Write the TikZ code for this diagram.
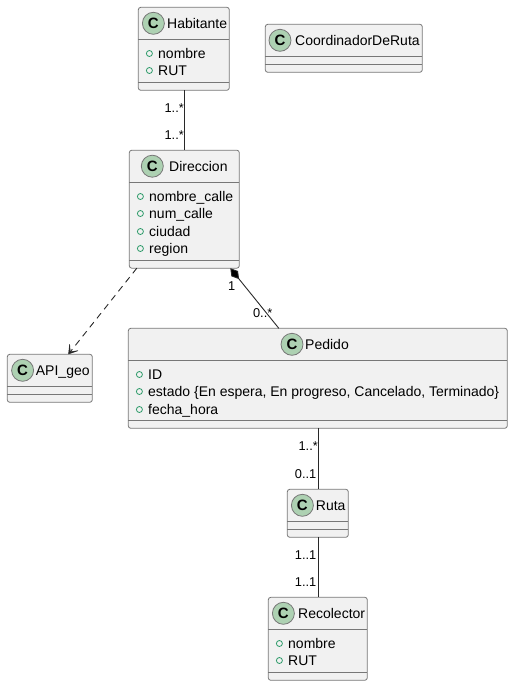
\documentclass[tikz,border=0pt]{standalone}
\usepackage{fontspec}
\setmainfont{Liberation Sans}
\usetikzlibrary{arrows.meta,calc}
\definecolor{boxfill}{HTML}{F1F1F1}
\definecolor{boxline}{HTML}{777777}
\definecolor{spotfill}{HTML}{ADD1B2}
\definecolor{attrline}{HTML}{2E9B6A}
\definecolor{edgeline}{HTML}{282828}
\tikzset{
  classbox/.style={draw=boxline,fill=boxfill,line width=0.8pt,rounded corners=2.5pt,inner sep=0pt,outer sep=0pt,anchor=north west},
  spotmark/.style={circle,draw=boxline,fill=spotfill,line width=0.8pt,minimum size=22pt,inner sep=0pt,outer sep=0pt,font=\fontsize{15}{15}\selectfont\bfseries},
  titletext/.style={inner sep=0pt,anchor=base west,font=\fontsize{14}{15}\selectfont,text=black},
  attrtext/.style={inner sep=0pt,anchor=base west,font=\fontsize{14}{15}\selectfont,text=black},
  attrmark/.style={circle,draw=attrline,line width=0.8pt,minimum size=6pt,inner sep=0pt,outer sep=0pt},
  multlabel/.style={inner sep=0pt,font=\fontsize{12.8}{13}\selectfont,text=black},
  sepline/.style={draw=boxline,line width=0.8pt},
  connector/.style={draw=edgeline,line width=0.9pt},
}
\newcommand{\classbox}[8]{% name, x, y, w, h, spot x, title x, title
  \node[classbox,minimum width=#4pt,minimum height=#5pt] (#1) at (#2,#3) {};
  \node[spotmark] (#1spot) at (#6,#3+16) {C};
  \node[titletext] (#1title) at (#7,#3+21.5) {#8};
}
\newcommand{\attrib}[4]{% name, mark x, baseline y, text
  \node[attrmark] (#1m) at (#2,#3-4.5) {};
  \node[attrtext] (#1) at (#2+8.6,#3) {#4};
}
\begin{document}
\begin{tikzpicture}[x=1pt,y=-1pt]
\useasboundingbox (0,0) rectangle (513,686);
% Habitante
\classbox{hab}{138.3}{7.3}{91}{83}{153.4}{167}{Habitante}
\draw[sepline] (138.3,39.3) -- (229.3,39.3);
\draw[sepline] (138.3,82.3) -- (229.3,82.3);
\attrib{habA}{149.4}{58}{nombre}
\attrib{habB}{149.4}{75}{RUT}
% Coordinador
\classbox{coo}{265.3}{24.3}{157}{48}{280}{295}{CoordinadorDeRuta}
\draw[sepline] (265.3,56.3) -- (422.3,56.3);
\draw[sepline] (265.3,64.3) -- (422.3,64.3);
% Direccion
\classbox{dir}{129.3}{150.2}{110}{118}{152.3}{169}{Direccion}
\draw[sepline] (129.3,182.2) -- (239.3,182.2);
\draw[sepline] (129.3,260.2) -- (239.3,260.2);
\attrib{dirA}{140.4}{201}{nombre\_calle}
\attrib{dirB}{140.4}{218}{num\_calle}
\attrib{dirC}{140.4}{236}{ciudad}
\attrib{dirD}{140.4}{253}{region}
% API_geo
\classbox{api}{7.3}{354.3}{85}{48}{22.6}{35.7}{API\_geo}
\draw[sepline] (7.3,386.3) -- (92.3,386.3);
\draw[sepline] (7.3,394.3) -- (92.3,394.3);
% Pedido
\classbox{ped}{128.3}{328.3}{379}{100}{292}{305}{Pedido}
\draw[sepline] (128.3,360.3) -- (507.3,360.3);
\draw[sepline] (128.3,420.3) -- (507.3,420.3);
\attrib{pedA}{139.4}{379}{ID}
\attrib{pedB}{139.4}{396}{estado \{En espera, En progreso, Cancelado, Terminado\}}
\attrib{pedC}{139.4}{414}{fecha\_hora}
% Ruta
\classbox{rut}{287.3}{489.3}{61}{48}{302.4}{315.7}{Ruta}
\draw[sepline] (287.3,521.3) -- (348.3,521.3);
\draw[sepline] (287.3,529.3) -- (348.3,529.3);
% Recolector
\classbox{rec}{268.3}{597.3}{99}{83}{283.4}{298}{Recolector}
\draw[sepline] (268.3,629.3) -- (367.3,629.3);
\draw[sepline] (268.3,672.3) -- (367.3,672.3);
\attrib{recA}{279.4}{648}{nombre}
\attrib{recB}{279.4}{665}{RUT}
% connector ends
\coordinate (dirL) at ($(dir.south west)+(7.5,0)$);
\coordinate (dirR) at ($(dir.south east)+(-9,0)$);
\coordinate (pedT) at ($(ped.north west)+(150.5,0)$);
\coordinate (apiT) at ($(api.north west)+(61,0)$);
\coordinate (habB0) at ($(hab.south west)+(46.2,0)$);
\coordinate (dirT0) at ($(dir.north west)+(55.2,0)$);
\coordinate (pedB0) at ($(ped.south west)+(190,0)$);
\coordinate (rutT0) at ($(rut.north west)+(31,0)$);
\coordinate (rutB0) at ($(rut.south west)+(31,0)$);
\coordinate (recT0) at ($(rec.north west)+(50,0)$);
% connectors
\draw[connector] (habB0) -- (dirT0);
\draw[connector,dash pattern=on 6.5pt off 5pt,-{Stealth[length=11pt,width=14pt,inset=7.5pt,line width=0.5pt,fill=edgeline]}] (dirL) -- (apiT);
\draw[connector,{Diamond[length=14pt,width=8.5pt,fill=black]}-] (dirR) -- (pedT);
\draw[connector] (pedB0) -- (rutT0);
\draw[connector] (rutB0) -- (recT0);
% labels
\node[multlabel,anchor=base east] (m1) at (184,112) {1..*};
\node[multlabel,anchor=base east] (m2) at (184,139) {1..*};
\node[multlabel,anchor=base east] (m3) at (235.5,290) {1};
\node[multlabel,anchor=base east] (m4) at (272.5,317) {0..*};
\node[multlabel,anchor=base east] (m5) at (318,450) {1..*};
\node[multlabel,anchor=base east] (m6) at (316.5,478) {0..1};
\node[multlabel,anchor=base east] (m7) at (316.5,559) {1..1};
\node[multlabel,anchor=base east] (m8) at (316.5,586.5) {1..1};
\end{tikzpicture}
\end{document}
